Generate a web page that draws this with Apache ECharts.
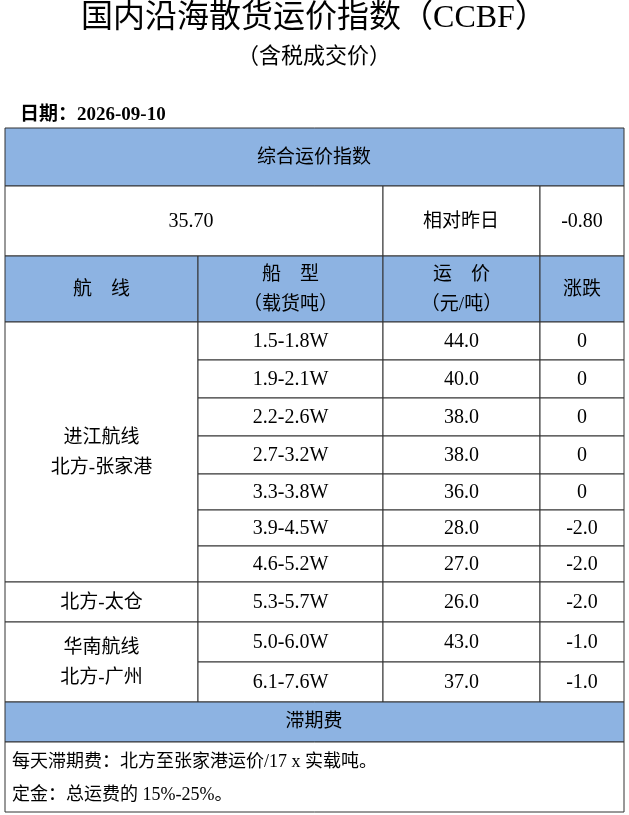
<!DOCTYPE html>
<html><head><meta charset="utf-8">
<script src="https://cdn.jsdelivr.net/npm/echarts@6/dist/echarts.min.js"></script>
<style>html,body{margin:0;padding:0;background:#fff}#c{width:629px;height:815px}</style>
</head><body><div id="c"></div>
<script>
const title = '国内沿海散货运价指数（CCBF）';
const subtitle = '（含税成交价）';
const dateLabel = '日期：2026-09-10';
const indexValue = '35.70';
const indexChange = '-0.80';
const shipTypes = ['1.5-1.8W','1.9-2.1W','2.2-2.6W','2.7-3.2W','3.3-3.8W','3.9-4.5W','4.6-5.2W','5.3-5.7W','5.0-6.0W','6.1-7.6W'];
const prices = [44.0,40.0,38.0,38.0,36.0,28.0,27.0,26.0,43.0,37.0];
const changes = [0,0,0,0,0,-2.0,-2.0,-2.0,-1.0,-1.0];
const routes = [{name:'进江航线\n北方-张家港',from:0,to:6},{name:'北方-太仓',from:7,to:7},{name:'华南航线\n北方-广州',from:8,to:9}];
const notes = ['每天滞期费：北方至张家港运价/17 x 实载吨。','定金：总运费的 15%-25%。'];

const FONT = '"Liberation Serif","Noto Sans CJK SC",serif';
const BLUE = '#8db3e2', LINE = '#333';
const X = [5,198,383,540,624];
const rowY = [322,360,398,436,474,510,546,582,622,662,702];
const g = [];
function rect(x,y,w,h,fill){g.push({type:'rect',shape:{x,y,width:w,height:h},style:{fill:fill||'#fff',stroke:LINE,lineWidth:1}});}
function text(t,x,y,size,opt){g.push({type:'text',x,y,style:{text:t,font:(opt&&opt.bold?'bold ':'')+size+'px '+FONT,fill:'#000',align:(opt&&opt.align)||'center',verticalAlign:'middle',lineHeight:(opt&&opt.lh)||size*1.5}});}
text(title,314,19,32);
text(subtitle,314,57,22);
text(dateLabel,20,115,19,{bold:true,align:'left'});
rect(5,128,619,58,BLUE); text('综合运价指数',314,158,19);
rect(5,186,378,70); text(indexValue,191,222,20);
rect(383,186,157,70); text('相对昨日',461,222,19);
rect(540,186,84,70); text(indexChange,582,222,20);
const hdr=['航　线','船　型\n（载货吨）','运　价\n（元/吨）','涨跌'];
for(let i=0;i<4;i++){rect(X[i],256,X[i+1]-X[i],66,BLUE);text(hdr[i],(X[i]+X[i+1])/2,290,19,{lh:30});}
routes.forEach(r=>{const y0=rowY[r.from],y1=rowY[r.to+1];rect(X[0],y0,X[1]-X[0],y1-y0);text(r.name,(X[0]+X[1])/2,(y0+y1)/2+1,19,{lh:30});});
shipTypes.forEach((s,i)=>{const y0=rowY[i],y1=rowY[i+1],cy=(y0+y1)/2+1;
 rect(X[1],y0,X[2]-X[1],y1-y0);text(s,(X[1]+X[2])/2,cy,20);
 rect(X[2],y0,X[3]-X[2],y1-y0);text(prices[i].toFixed(1),(X[2]+X[3])/2,cy,20);
 rect(X[3],y0,X[4]-X[3],y1-y0);text(changes[i]===0?'0':changes[i].toFixed(1),(X[3]+X[4])/2,cy,20);});
rect(5,702,619,40,BLUE); text('滞期费',314,722,19);
rect(5,742,619,70);
text(notes[0],12,762,18,{align:'left'});
text(notes[1],12,795,18,{align:'left'});
const chart=echarts.init(document.getElementById('c'));
chart.setOption({animation:false,graphic:g});
</script></body></html>
